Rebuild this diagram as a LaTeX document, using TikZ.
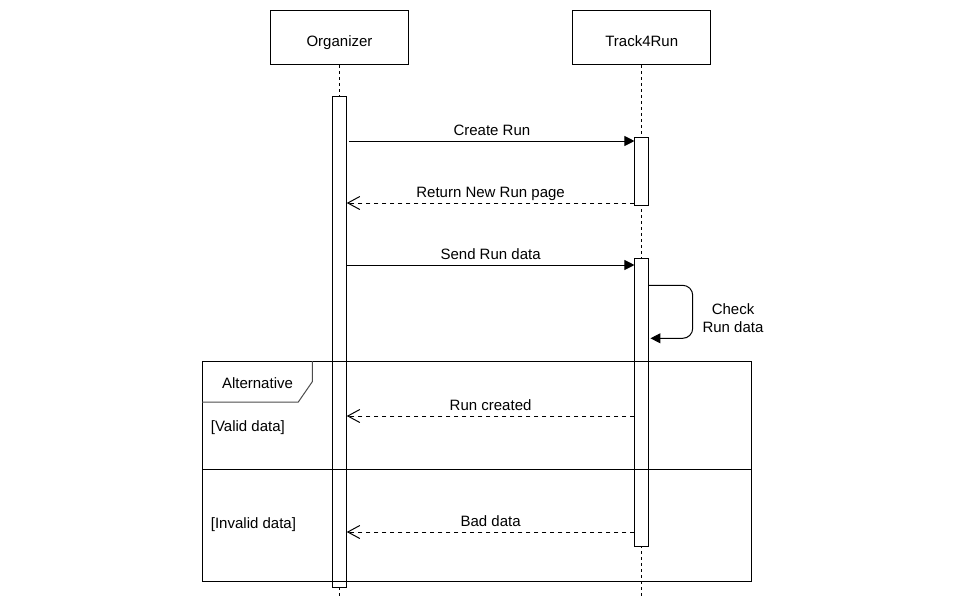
\documentclass[tikz,border=0pt]{standalone}
\usepackage{fontspec}
\setmainfont{Liberation Sans}
\usetikzlibrary{arrows.meta}
\begin{document}
\begin{tikzpicture}[x=1pt,y=-1pt,
  font=\fontsize{15}{18}\selectfont,
  participant/.style={draw, line width=1pt, minimum width=137.5pt, minimum height=54.5pt, inner sep=0pt, text height=18.4pt, text depth=0pt},
  actbar/.style={draw, fill=white, line width=1pt, minimum width=13.5pt, inner sep=0pt},
  lifeline/.style={line width=1pt, dash pattern=on 3pt off 3pt},
  syncmsg/.style={line width=1pt, -{Triangle[length=10pt,width=10pt]}},
  replymsg/.style={line width=1pt, dash pattern=on 4pt off 4pt, -{Straight Barb[length=12pt,width=13pt]}},
  msglabel/.style={midway, anchor=base, yshift=5.5pt, inner sep=0pt},
  framebox/.style={line width=1pt},
  guardtext/.style={anchor=west, inner sep=0pt}]
\useasboundingbox (0,0) rectangle (971,600);

% participants
\node[participant] (org) at (339.5,37.5) {Organizer};
\node[participant] (trk) at (641.7,37.3) {Track4Run};

% lifelines
\coordinate (orgend) at (339.5,597);
\coordinate (trkend) at (641.7,598);
\draw[lifeline] (org.south) -- (orgend);
\draw[lifeline] (trk.south) -- (trkend);

% activation bars
\node[actbar, minimum height=491pt] (orgbar) at (339.5,341.5) {};
\node[actbar, minimum height=68pt] (trkbarA) at (641.7,171.3) {};
\node[actbar, minimum height=288pt] (trkbarB) at (641.7,402.3) {};

% messages
\draw[syncmsg] ([xshift=2.5pt]orgbar.east |- 0,141) -- (trkbarA.west |- 0,141)
  node[msglabel] (m1) {Create Run};
\draw[replymsg] (trkbarA.west |- 0,203) -- (orgbar.east |- 0,203)
  node[msglabel] (m2) {Return New Run page};
\draw[syncmsg] (orgbar.east |- 0,265) -- (trkbarB.west |- 0,265)
  node[msglabel] (m3) {Send Run data};
\coordinate (selfA) at (692.7,285.3);
\coordinate (selfB) at (692.7,338.3);
\draw[syncmsg, rounded corners=10pt] (trkbarB.east |- selfA) -- (selfA) -- (selfB) -- ([xshift=1.5pt]trkbarB.east |- selfB);
\node[align=center, inner sep=0pt] (m4) at (733,317.7) {Check\\Run data};
\draw[replymsg] (trkbarB.west |- 0,416) -- (orgbar.east |- 0,416)
  node[msglabel] (m5) {Run created};
\draw[replymsg] (trkbarB.west |- 0,532) -- (orgbar.east |- 0,532)
  node[msglabel] (m6) {Bad data};

% alt frame
\draw[framebox] (202,361) rectangle (751.5,581);
\draw[framebox] (202,469.3) -- (751.5,469.3);
\draw[framebox, draw=black!70] (202,402) -- (298.3,402) -- (312.3,381.7) -- (312.3,361);
\node[inner sep=0pt] (alt) at (257.5,383.3) {Alternative};
\node[guardtext] (g1) at (210.7,427.7) {[Valid data]};
\node[guardtext] (g2) at (210.7,525) {[Invalid data]};
\end{tikzpicture}
\end{document}
